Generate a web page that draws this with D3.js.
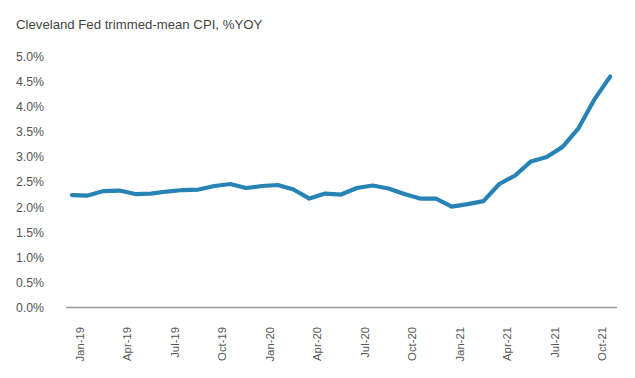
<!DOCTYPE html>
<html><head><meta charset="utf-8">
<script src="https://cdn.jsdelivr.net/npm/d3@7"></script>
<style>
body{margin:0;background:#fff;}
text{font-family:"Liberation Sans",Arial,Helvetica,sans-serif;}
</style></head>
<body><svg id="c" width="635" height="378"></svg>
<script>
const months = ["Jan-19","Feb-19","Mar-19","Apr-19","May-19","Jun-19","Jul-19","Aug-19","Sep-19","Oct-19","Nov-19","Dec-19",
"Jan-20","Feb-20","Mar-20","Apr-20","May-20","Jun-20","Jul-20","Aug-20","Sep-20","Oct-20","Nov-20","Dec-20",
"Jan-21","Feb-21","Mar-21","Apr-21","May-21","Jun-21","Jul-21","Aug-21","Sep-21","Oct-21","Nov-21"];
const values = [2.24,2.23,2.32,2.33,2.26,2.27,2.31,2.34,2.35,2.42,2.46,2.38,
2.42,2.44,2.35,2.17,2.27,2.25,2.38,2.43,2.37,2.26,2.17,2.17,
2.01,2.06,2.12,2.46,2.63,2.91,3.00,3.20,3.57,4.14,4.60];
const yTicks = [0,0.5,1,1.5,2,2.5,3,3.5,4,4.5,5];
const xLabels = ["Jan-19","Apr-19","Jul-19","Oct-19","Jan-20","Apr-20","Jul-20","Oct-20","Jan-21","Apr-21","Jul-21","Oct-21"];
const title = "Cleveland Fed trimmed-mean CPI, %YOY";

const svg = d3.select("#c");
const x = d3.scaleBand().domain(months).range([64,618]);
const y = d3.scaleLinear().domain([0,5]).range([307.5,56.5]);

svg.append("text").attr("x",16).attr("y",29).attr("font-size",13.2).attr("fill","#444").text(title);

// y labels
svg.append("g").selectAll("text").data(yTicks).join("text")
  .attr("x",16).attr("y",d=>y(d)).attr("dy","0.36em")
  .attr("font-size",12.3).attr("fill","#555")
  .text(d=>d.toFixed(1)+"%");

// x axis line
svg.append("line").attr("x1",x.range()[0]+2).attr("x2",x.range()[1]-1)
  .attr("y1",y(0)).attr("y2",y(0)).attr("stroke","#999").attr("stroke-width",1.5);

// x labels
svg.append("g").selectAll("text").data(xLabels).join("text")
  .attr("transform",d=>`translate(${x(d)+x.bandwidth()/2+8},327) rotate(-90)`)
  .attr("text-anchor","end").attr("dy","0.36em")
  .attr("font-size",11.3).attr("fill","#555")
  .text(d=>d);

const line = d3.line().x((d,i)=>x(months[i])+x.bandwidth()/2).y(d=>y(d));
svg.append("path").datum(values).attr("d",line).attr("fill","none")
  .attr("stroke","#2783b5").attr("stroke-width",4.2)
  .attr("stroke-linejoin","round").attr("stroke-linecap","round");
</script></body></html>
